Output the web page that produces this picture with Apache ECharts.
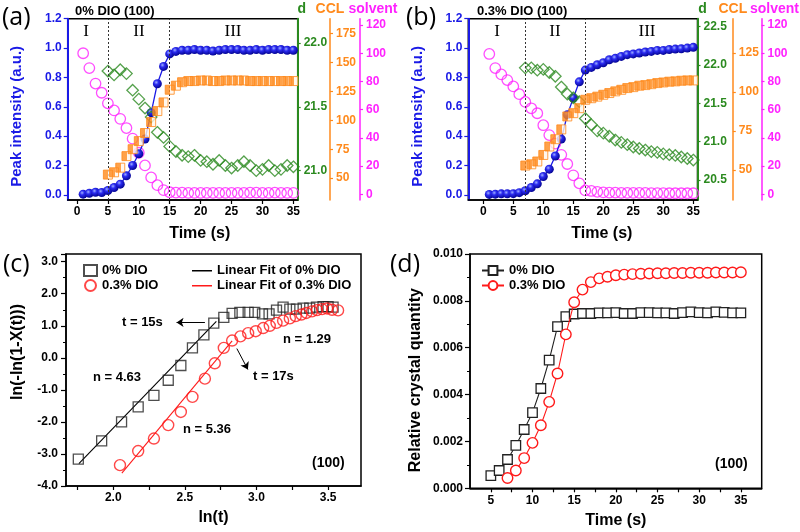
<!DOCTYPE html>
<html><head><meta charset="utf-8">
<script src="https://cdn.jsdelivr.net/npm/echarts@6/dist/echarts.min.js"></script>
<style>html,body{margin:0;padding:0;background:#fff}#c{width:800px;height:532px}</style>
</head><body><div id="c"></div>
<script>
// ---------- data ----------
const timeFull = [1,2,3,4,5,6,7,8,9,10,11,12,13,14,15,16,17,18,19,20,21,22,23,24,25,26,27,28,29,30,31,32,33,34,35];
const timeFrom5 = [5,6,7,8,9,10,11,12,13,14,15,16,17,18,19,20,21,22,23,24,25,26,27,28,29,30,31,32,33,34,35];
const timeFrom7 = [7,8,9,10,11,12,13,14,15,16,17,18,19,20,21,22,23,24,25,26,27,28,29,30,31,32,33,34,35];

// panel (a) 0% DIO
const peakA = [0.005,0.011,0.018,0.016,0.03,0.05,0.073,0.13,0.20,0.28,0.38,0.56,0.757,0.875,0.96,0.977,0.985,0.985,0.99,0.985,0.985,0.98,0.985,0.99,0.99,0.99,0.985,0.985,0.99,0.985,0.99,0.99,0.99,0.985,0.985];
const solventA = [100,89.5,78.5,72,64.5,59.5,53.5,47,39.5,29.5,20.5,12,6.5,3,1.5,1.2,1.2,1,1,1,1,1,1,1,1,1,1,1.2,1.2,1,1,1.2,1,1,1];
const cclA = [53,55,59,69,75,82,89,98.5,108,115.5,126.5,130,133,134,134,134.5,134.5,134,134,134.5,134.5,134.5,134.5,134,134,134,134,134,134,134,134];
const dA = [21.78,21.75,21.79,21.76,21.63,21.56,21.49,21.42,21.30,21.26,21.19,21.15,21.12,21.11,21.12,21.08,21.07,21.05,21.08,21.04,21.02,21.04,21.07,21.04,21.00,21.01,21.04,21.00,21.01,21.04,21.03];
const boundsA = [5, 15];

// panel (b) 0.3% DIO
const peakB = [0.003,0.005,0.007,0.007,0.008,0.015,0.028,0.05,0.075,0.125,0.175,0.265,0.38,0.545,0.66,0.77,0.85,0.868,0.886,0.90,0.92,0.93,0.943,0.955,0.96,0.966,0.973,0.977,0.984,0.984,0.99,0.993,0.995,1.0,1.005];
const solventB = [99.5,89.5,85,81,76.5,71,65.5,61,57.5,49,42,36,28,21.5,13.5,7.8,2.8,2.4,1.8,1.4,1.2,1.2,1,1,1,1,1,0.9,0.9,0.9,0.8,0.8,0.8,0.8,0.8];
const cclB = [52.8,53.6,55.4,59.6,65,69.7,76,84.3,86.4,89.6,95,96,97,98.2,99.3,100.4,101.4,102.5,103.1,104,104.4,105,105.7,106.1,106.6,106.8,107.2,107.4,107.4];
const dB = [21.96,21.96,21.93,21.94,21.90,21.85,21.71,21.62,21.57,21.52,21.30,21.22,21.14,21.11,21.07,21.02,20.99,20.96,20.93,20.91,20.89,20.87,20.86,20.84,20.83,20.82,20.80,20.78,20.76];
const boundsB = [7, 17];

// panel (c) Avrami plot
const lnT0 = [1.756,1.919,2.058,2.174,2.284,2.384,2.472,2.553,2.633,2.702,2.772,2.83,2.884,2.942,2.988,3.042,3.088,3.14,3.186,3.233,3.279,3.326,3.372,3.419,3.465,3.50,3.535];
const avr0 = [-3.16,-2.59,-2.0,-1.53,-1.17,-0.70,-0.24,0.31,0.715,1.08,1.26,1.39,1.42,1.42,1.42,1.37,1.37,1.49,1.58,1.52,1.52,1.55,1.55,1.58,1.60,1.60,1.58];
const lnT1 = [2.047,2.174,2.284,2.384,2.472,2.553,2.64,2.709,2.772,2.83,2.888,2.942,2.995,3.047,3.093,3.14,3.186,3.233,3.274,3.314,3.349,3.388,3.423,3.458,3.493,3.528,3.57];
const avr1 = [-3.35,-2.91,-2.52,-2.10,-1.69,-1.22,-0.65,-0.17,0.31,0.54,0.67,0.77,0.83,0.93,1.0,1.09,1.16,1.23,1.30,1.35,1.40,1.45,1.49,1.52,1.54,1.50,1.48];
const fit0X = [1.76, 2.72], fit0Y = [-3.30, 1.14];
const fit1X = [2.06, 2.83], fit1Y = [-3.60, 0.53];

// panel (d) relative crystal quantity
const crys0 = [0.00054,0.00076,0.00123,0.00183,0.00251,0.00323,0.00426,0.00547,0.0069,0.00733,0.00744,0.00746,0.00746,0.00749,0.00749,0.0075,0.00746,0.00746,0.0075,0.0075,0.00749,0.00749,0.00746,0.0075,0.00753,0.0075,0.00749,0.00753,0.00751,0.00749,0.00749];
const crys1 = [0.00044,0.00076,0.00129,0.00194,0.00269,0.00369,0.0049,0.00657,0.00794,0.00848,0.0088,0.00896,0.00903,0.00909,0.00912,0.00914,0.00916,0.00917,0.00918,0.00918,0.00919,0.00919,0.0092,0.0092,0.0092,0.00921,0.00921,0.00921,0.00922];

// tick labels
const timeTicks = [0,5,10,15,20,25,30,35];
const peakTicks = [0,0.2,0.4,0.6,0.8,1.0,1.2];
const dTicksA = [21.0,21.5,22.0];
const dTicksB = [20.5,21.0,21.5,22.0,22.5];
const cclTicksA = [50,75,100,125,150,175];
const cclTicksB = [50,75,100,125];
const solventTicks = [0,20,40,60,80,100,120];
const lnTicks = [2.0,2.5,3.0,3.5];
const lnMinorTicks = [1.75,2.0,2.25,2.5,2.75,3.0,3.25,3.5];
const timeTicksD = [5,10,15,20,25,30,35];
const timeMinorD = [5,7.5,10,12.5,15,17.5,20,22.5,25,27.5,30,32.5,35];

// ---------- styles ----------
const FONT = 'Liberation Sans';
const BLUE = '#1a1ae6', GREEN = '#2b8a1f', ORANGE = '#ff8a1c', MAG = '#ff22ff', RED = '#ff1a1a';
const pairs = (xs, ys) => xs.map((x, i) => [x, ys[i]]);
const ball = {type:'radial', x:0.38, y:0.35, r:0.7, colorStops:[{offset:0,color:'#9fb0ff'},{offset:0.35,color:'#2b2bf0'},{offset:1,color:'#00008a'}]};
const halfSq = {type:'linear', x:0, y:0, x2:1, y2:0, colorStops:[{offset:0,color:ORANGE},{offset:0.55,color:ORANGE},{offset:0.55,color:'#fff5ea'},{offset:1,color:'#fff5ea'}]};

function lbl(color, fmt, margin){ return {color, fontFamily:FONT, fontWeight:'bold', fontSize:12, margin:margin||6, formatter:fmt}; }
function axLine(color, w){ return {show:true, onZero:false, lineStyle:{color, width:w||1.5}}; }
function tick(color, vals, len){ const t = {show:true, length:len||4, lineStyle:{color, width:1.2}}; if (vals) t.customValues = vals; return t; }
const f1 = v => v.toFixed(1), f0 = v => String(v), f3 = v => v.toFixed(3);

const xAxes = [
  {gridIndex:0, type:'value', min:-1.5, max:35.7, axisLine:axLine('#000'), axisTick:tick('#000', timeTicks),
   axisLabel:Object.assign(lbl('#000', f0, 6), {customValues:timeTicks}), splitLine:{show:false},
   name:'Time (s)', nameLocation:'middle', nameGap:26, nameTextStyle:{fontFamily:FONT, fontWeight:'bold', fontSize:16, color:'#000', padding:[0,0,0,34]}},
  {gridIndex:1, type:'value', min:-2.5, max:35.7, axisLine:axLine('#000'), axisTick:tick('#000', timeTicks),
   axisLabel:Object.assign(lbl('#000', f0, 6), {customValues:timeTicks}), splitLine:{show:false},
   name:'Time (s)', nameLocation:'middle', nameGap:26, nameTextStyle:{fontFamily:FONT, fontWeight:'bold', fontSize:16, color:'#000', padding:[0,0,0,38]}},
  {gridIndex:2, type:'value', min:1.67, max:3.73, axisLine:axLine('#000'), axisTick:tick('#000', lnMinorTicks),
   axisLabel:Object.assign(lbl('#000', f1, 6), {customValues:lnTicks}), splitLine:{show:false},
   name:'ln(t)', nameLocation:'middle', nameGap:24, nameTextStyle:{fontFamily:FONT, fontWeight:'bold', fontSize:16, color:'#000'}},
  {gridIndex:3, type:'value', min:2.5, max:37.5, axisLine:axLine('#000'), axisTick:tick('#000', timeMinorD),
   axisLabel:Object.assign(lbl('#000', f0, 6), {customValues:timeTicksD}), splitLine:{show:false},
   name:'Time (s)', nameLocation:'middle', nameGap:24, nameTextStyle:{fontFamily:FONT, fontWeight:'bold', fontSize:16, color:'#000'}}
];

function rightAxis(gi, offset, min, max, vals, color, fmt, name, padL, w){
  return {gridIndex:gi, type:'value', position:'right', offset, min, max,
    axisLine:axLine(color, w||1.5), axisTick:tick(color, vals, 3),
    axisLabel:Object.assign(lbl(color, fmt, 6), {customValues:vals}), splitLine:{show:false},
    name, nameLocation:'end', nameGap:3,
    nameTextStyle:{fontFamily:FONT, fontWeight:'bold', fontSize:14, color, padding:[0,0,0,padL||0]}};
}
function peakAxis(gi, padR){
  return {gridIndex:gi, type:'value', position:'left', min:-0.035, max:1.2,
    axisLine:axLine(BLUE, 2), axisTick:tick(BLUE, peakTicks, 4),
    axisLabel:Object.assign(lbl(BLUE, f1, 6), {customValues:peakTicks}), splitLine:{show:false},
    name:'Peak intensity (a.u.)', nameLocation:'middle', nameGap:43,
    nameTextStyle:{fontFamily:FONT, fontWeight:'bold', fontSize:15, color:BLUE, padding:[0,padR,0,0]}};
}

const yAxes = [
  peakAxis(0, 14),
  rightAxis(0, 0, 20.77, 22.19, dTicksA, GREEN, f1, 'd', 8, 2),
  rightAxis(0, 32.3, 31, 188, cclTicksA, ORANGE, f0, 'CCL', 0),
  rightAxis(0, 62.3, -4, 124.5, solventTicks, MAG, f0, 'solvent', 26),
  peakAxis(1, 14),
  rightAxis(1, 0, 20.24, 22.6, dTicksB, GREEN, f1, 'd', 10, 2),
  rightAxis(1, 35.3, 30.7, 147, cclTicksB, ORANGE, f0, 'CCL', 0),
  rightAxis(1, 64, -4, 124.5, solventTicks, MAG, f0, 'solvent', 26),
  {gridIndex:2, type:'value', min:-4, max:3.24, interval:1, axisLine:axLine('#000'), axisTick:tick('#000', null, 5),
   minorTick:{show:true, splitNumber:2, length:3, lineStyle:{color:'#000'}},
   axisLabel:lbl('#000', f1, 8), splitLine:{show:false},
   name:'ln(-ln(1-X(t)))', nameLocation:'middle', nameGap:40,
   nameTextStyle:{fontFamily:FONT, fontWeight:'bold', fontSize:16, color:'#000', padding:[0,0,0,36]}},
  {gridIndex:3, type:'value', min:0, max:0.01, interval:0.002, axisLine:axLine('#000'), axisTick:tick('#000', null, 5),
   minorTick:{show:true, splitNumber:2, length:3, lineStyle:{color:'#000'}},
   axisLabel:lbl('#000', f3, 7), splitLine:{show:false},
   name:'Relative crystal quantity', nameLocation:'middle', nameGap:46,
   nameTextStyle:{fontFamily:FONT, fontWeight:'bold', fontSize:16, color:'#000', padding:[0,18,0,0]}}
];

function vLines(bounds){
  return {silent:true, symbol:'none', label:{show:false}, lineStyle:{color:'#333', type:[2,2], width:1},
          data: bounds.map(b => ({xAxis:b}))};
}
function panelSeries(xi, y0, time, peak, solvent, tCcl, ccl, tD, d, bounds){
  return [
    {type:'scatter', xAxisIndex:xi, yAxisIndex:y0+3, data:pairs(time, solvent), symbol:'circle', symbolSize:10.5,
     itemStyle:{color:'rgba(255,255,255,0)', borderColor:MAG, borderWidth:1.3}, z:2},
    {type:'line', xAxisIndex:xi, yAxisIndex:y0, data:pairs(time, peak), symbol:'circle', symbolSize:9, showAllSymbol:true,
     itemStyle:{color:ball, borderWidth:0}, lineStyle:{color:BLUE, width:1.3}, z:3, markLine:vLines(bounds)},
    {type:'scatter', xAxisIndex:xi, yAxisIndex:y0+1, data:pairs(tD, d), symbol:'diamond', symbolSize:11.5,
     itemStyle:{color:'rgba(255,255,255,0)', borderColor:GREEN, borderWidth:1.3}, z:4},
    {type:'scatter', xAxisIndex:xi, yAxisIndex:y0+2, data:pairs(tCcl, ccl), symbol:'rect', symbolSize:9,
     itemStyle:{color:halfSq, borderColor:ORANGE, borderWidth:1}, z:5}
  ];
}

const arrowStyle = {silent:true, symbol:['none','arrow'], symbolSize:7, label:{show:false}, lineStyle:{color:'#000', width:1, type:'solid'}};

const series = [
  ...panelSeries(0, 0, timeFull, peakA, solventA, timeFrom5, cclA, timeFrom5, dA, boundsA),
  ...panelSeries(1, 4, timeFull, peakB, solventB, timeFrom7, cclB, timeFrom7, dB, boundsB),
  {name:'0% DIO', type:'scatter', xAxisIndex:2, yAxisIndex:8, data:pairs(lnT0, avr0), symbol:'rect', symbolSize:10,
   itemStyle:{color:'rgba(255,255,255,0)', borderColor:'#222', borderWidth:1.3}, z:3},
  {name:'0.3% DIO', type:'scatter', xAxisIndex:2, yAxisIndex:8, data:pairs(lnT1, avr1), symbol:'circle', symbolSize:11,
   itemStyle:{color:'rgba(255,255,255,0)', borderColor:RED, borderWidth:1.4}, z:3},
  {name:'Linear Fit of 0% DIO', type:'line', xAxisIndex:2, yAxisIndex:8, data:pairs(fit0X, fit0Y), symbol:'none', showSymbol:false,
   lineStyle:{color:'#000', width:1.1}, itemStyle:{color:'#000'}, z:2,
   markLine:Object.assign({data:[[{coord:[2.64,1.106]},{coord:[2.442,1.106]}]]}, arrowStyle)},
  {name:'Linear Fit of 0.3% DIO', type:'line', xAxisIndex:2, yAxisIndex:8, data:pairs(fit1X, fit1Y), symbol:'none', showSymbol:false,
   lineStyle:{color:RED, width:1.1}, itemStyle:{color:RED}, z:2,
   markLine:Object.assign({data:[[{coord:[2.863,0.289]},{coord:[2.94,-0.363]}]]}, arrowStyle)},
  {name:'0% DIO ', type:'line', xAxisIndex:3, yAxisIndex:9, data:pairs(timeFrom5, crys0), symbol:'rect', symbolSize:9.5, showAllSymbol:true,
   itemStyle:{color:'#fff', borderColor:'#222', borderWidth:1.3}, lineStyle:{color:'#222', width:1.1}, z:3},
  {name:'0.3% DIO ', type:'line', xAxisIndex:3, yAxisIndex:9, data:pairs(timeFrom7, crys1), symbol:'circle', symbolSize:10.5, showAllSymbol:true,
   itemStyle:{color:'#fff', borderColor:RED, borderWidth:1.4}, lineStyle:{color:RED, width:1.1}, z:4}
];

const legTxt = {fontFamily:FONT, fontWeight:'bold', fontSize:13, color:'#000'};
// thin horizontal bar icon (corner dots fix the bounding box)
const barIcon = 'path://M0,0H0.01V0.01H0Z M0,5H20V6.4H0Z M0,11H0.01V11.01H0Z';
const legend = [
  {data:['0% DIO','0.3% DIO'], orient:'vertical', left:78, top:259, itemWidth:13, itemHeight:11, itemGap:2, textStyle:legTxt, selectedMode:false},
  {data:[{name:'Linear Fit of 0% DIO', icon:barIcon, itemStyle:{color:'#000'}}, {name:'Linear Fit of 0.3% DIO', icon:barIcon, itemStyle:{color:RED}}],
   orient:'vertical', left:187, top:259, itemWidth:20, itemHeight:11, itemGap:2, textStyle:legTxt, selectedMode:false},
  {data:['0% DIO ','0.3% DIO '], orient:'vertical', left:476, top:259, itemWidth:22, itemHeight:11, itemGap:2, textStyle:legTxt, selectedMode:false}
];

function txt(text, x, y, size, opts){
  return {type:'text', silent:true, style:Object.assign({text, x, y, fill:'#000', font:'bold ' + size + 'px "' + FONT + '"', verticalAlign:'middle', align:'left'}, opts||{})};
}
const serif = {font:'17px "Liberation Serif"', align:'center'};
const label = {font:'25px "Open Sans"'};
const graphic = [
  txt('(a)', 2, 18, 25, label), txt('(b)', 406, 18, 25, label),
  txt('(c)', 3, 265, 25, label), txt('(d)', 390, 265, 25, label),
  txt('0% DIO (100)', 75, 11, 13), txt('0.3% DIO (100)', 477, 11, 13),
  txt('I', 86, 32, 17, serif), txt('II', 139, 32, 17, serif), txt('III', 233, 32, 17, serif),
  txt('I', 497, 32, 17, serif), txt('II', 555, 32, 17, serif), txt('III', 647, 32, 17, serif),
  txt('t = 15s', 122, 322, 13), txt('n = 4.63', 93, 377, 13), txt('t = 17s', 253, 376, 13),
  txt('n = 1.29', 283, 339, 13), txt('n = 5.36', 183, 429, 13), txt('(100)', 312, 463, 14),
  txt('(100)', 715, 464, 14)
];

const chart = echarts.init(document.getElementById('c'), null, {renderer:'canvas'});
chart.setOption({
  animation:false,
  backgroundColor:'#fff',
  textStyle:{fontFamily:FONT},
  grid:[
    {left:67.7, right:502.3, top:18.7, bottom:332, show:true, borderColor:'#000', borderWidth:1.5, containLabel:false},
    {left:468.3, right:102.3, top:18.7, bottom:332, show:true, borderColor:'#000', borderWidth:1.5, containLabel:false},
    {left:66, right:439, top:254, bottom:46, show:true, borderColor:'#000', borderWidth:1.5, containLabel:false},
    {left:470, right:38.3, top:254, bottom:43.7, show:true, borderColor:'#000', borderWidth:1.5, containLabel:false}
  ],
  xAxis:xAxes, yAxis:yAxes, series, legend, graphic
});
</script></body></html>
